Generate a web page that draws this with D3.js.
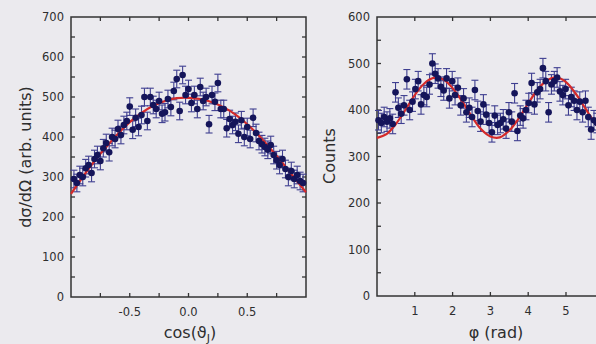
<!DOCTYPE html>
<html>
<head>
<meta charset="utf-8">
<script src="https://cdn.jsdelivr.net/npm/d3@7"></script>
<style>
  body { margin: 0; background: #ebeaee; }
  svg { display: block; }
  text { font-family: "DejaVu Sans", sans-serif; fill: #2e2e2e; }
</style>
</head>
<body>
<div class="chart"></div>
<script>
var svgWidth = 596;
var svgHeight = 344;

// left panel: angular distribution
var cosVals = [-0.975, -0.95, -0.925, -0.9, -0.875, -0.85, -0.825, -0.8, -0.775, -0.75,
  -0.725, -0.7, -0.675, -0.65, -0.625, -0.6, -0.575, -0.55, -0.525, -0.5,
  -0.475, -0.45, -0.425, -0.4, -0.375, -0.35, -0.325, -0.3, -0.275, -0.25,
  -0.225, -0.2, -0.175, -0.15, -0.125, -0.1, -0.075, -0.05, -0.025, 0.0,
  0.025, 0.05, 0.075, 0.1, 0.125, 0.15, 0.175, 0.2, 0.225, 0.25,
  0.275, 0.3, 0.325, 0.35, 0.375, 0.4, 0.425, 0.45, 0.475, 0.5,
  0.525, 0.55, 0.575, 0.6, 0.625, 0.65, 0.675, 0.7, 0.725, 0.75,
  0.775, 0.8, 0.825, 0.85, 0.875, 0.9, 0.925, 0.95, 0.975];
var xsecVals = [295, 285, 305, 300, 322, 330, 310, 345, 355, 340,
  372, 385, 362, 400, 395, 420, 405, 430, 440, 476,
  418, 448, 425, 455, 500, 440, 500, 480, 470, 490,
  458, 462, 495, 475, 515, 545, 465, 555, 505, 520,
  485, 505, 470, 525, 490, 500, 432, 505, 488, 535,
  470, 470, 422, 445, 430, 438, 408, 442, 400, 425,
  395, 448, 410, 390, 382, 375, 368, 380, 355, 342,
  330, 345, 320, 300, 315, 295, 305, 290, 285];
var xsecErr = 22;

var cosFit = [-1, -0.9, -0.8, -0.7, -0.6, -0.5, -0.4, -0.3, -0.2, -0.1, 0,
  0.1, 0.2, 0.3, 0.4, 0.5, 0.6, 0.7, 0.8, 0.9, 1];
var xsecFit = [258, 300, 340, 375, 408, 437, 460, 478, 490, 497, 498,
  495, 487, 474, 456, 432, 403, 370, 335, 298, 262];

// right panel: azimuthal distribution
var phiVals = [0.04, 0.115, 0.19, 0.265, 0.34, 0.415, 0.49, 0.565, 0.64, 0.715,
  0.79, 0.865, 0.94, 1.015, 1.09, 1.165, 1.24, 1.315, 1.39, 1.465,
  1.54, 1.615, 1.69, 1.765, 1.84, 1.915, 1.99, 2.065, 2.14, 2.215,
  2.29, 2.365, 2.44, 2.515, 2.59, 2.665, 2.74, 2.815, 2.89, 2.965,
  3.04, 3.115, 3.19, 3.265, 3.34, 3.415, 3.49, 3.565, 3.64, 3.715,
  3.79, 3.865, 3.94, 4.015, 4.09, 4.165, 4.24, 4.315, 4.39, 4.465,
  4.54, 4.615, 4.69, 4.765, 4.84, 4.915, 4.99, 5.065, 5.14, 5.215,
  5.29, 5.365, 5.44, 5.515, 5.59, 5.665, 5.74, 5.815, 5.89, 5.965,
  6.04, 6.115, 6.19];
var countVals = [378, 372, 385, 375, 382, 370, 438, 405, 392, 410,
  466, 400, 418, 445, 462, 412, 432, 428, 455, 500,
  478, 468, 450, 442, 468, 425, 462, 432, 448, 410,
  425, 395, 405, 385, 443, 398, 375, 412, 390, 372,
  352, 388, 368, 372, 380, 360, 395, 375, 436, 355,
  388, 382, 400, 415, 458, 412, 438, 445, 490, 462,
  395, 455, 462, 470, 440, 432, 445, 410, 428, 420,
  400, 418, 395, 420, 385, 358, 378, 372, 365, 380,
  372, 378, 382];
var countErr = 21;

var phiFit = [0, 0.25, 0.5, 0.75, 1.0, 1.25, 1.5, 1.75, 2.0, 2.25, 2.5, 2.75, 3.0,
  3.25, 3.5, 3.75, 4.0, 4.25, 4.5, 4.75, 5.0, 5.25, 5.5, 5.75, 6.0, 6.25];
var countFit = [340, 348, 370, 400, 432, 457, 469, 466, 447, 419, 387, 359, 343,
  341, 356, 382, 414, 444, 464, 470, 460, 436, 405, 374, 350, 340];

var svg = d3.select(".chart")
  .append("svg")
  .attr("width", svgWidth)
  .attr("height", svgHeight);

var frameColor = "#333333";
var dotColor = "#15155a";
var barColor = "#3e3e90";
var fitColor = "#d42a2a";

// draws one framed panel with inward ticks, error bars and fit curve
function drawPanel(opt) {
  var x = d3.scaleLinear().domain(opt.xDomain).range([opt.left, opt.right]);
  var y = d3.scaleLinear().domain(opt.yDomain).range([opt.bottom, opt.top]);
  var g = svg.append("g");

  // frame
  g.append("rect")
    .attr("x", opt.left).attr("y", opt.top)
    .attr("width", opt.right - opt.left).attr("height", opt.bottom - opt.top)
    .attr("fill", "none").attr("stroke", frameColor).attr("stroke-width", 1.5);

  // ticks on all four sides, pointing in
  var tl = 4;
  opt.xTicks.forEach(function(t) {
    g.append("line").attr("x1", x(t)).attr("x2", x(t))
      .attr("y1", opt.bottom).attr("y2", opt.bottom - tl)
      .attr("stroke", frameColor).attr("stroke-width", 1.3);
    g.append("line").attr("x1", x(t)).attr("x2", x(t))
      .attr("y1", opt.top).attr("y2", opt.top + tl)
      .attr("stroke", frameColor).attr("stroke-width", 1.3);
  });
  opt.yTicks.forEach(function(t) {
    g.append("line").attr("x1", opt.left).attr("x2", opt.left + tl)
      .attr("y1", y(t)).attr("y2", y(t))
      .attr("stroke", frameColor).attr("stroke-width", 1.3);
    g.append("line").attr("x1", opt.right).attr("x2", opt.right - tl)
      .attr("y1", y(t)).attr("y2", y(t))
      .attr("stroke", frameColor).attr("stroke-width", 1.3);
  });

  // tick labels
  g.selectAll(".xl").data(opt.xLabels).enter().append("text")
    .attr("x", d => x(d))
    .attr("y", opt.bottom + 19)
    .attr("text-anchor", "middle")
    .attr("font-size", 11.5)
    .text(opt.xFormat);
  g.selectAll(".yl").data(opt.yLabels).enter().append("text")
    .attr("x", opt.left - 7)
    .attr("y", d => y(d) + 4)
    .attr("text-anchor", "end")
    .attr("font-size", 11.5)
    .text(d => d);

  // error bars
  var bars = g.append("g").attr("stroke", barColor).attr("stroke-width", 1.1);
  opt.xs.forEach(function(xv, i) {
    var cx = x(xv), yv = opt.ys[i];
    var y1 = y(yv + opt.err), y2 = y(yv - opt.err);
    bars.append("line").attr("x1", cx).attr("x2", cx).attr("y1", y1).attr("y2", y2);
    bars.append("line").attr("x1", cx - 3.5).attr("x2", cx + 3.5).attr("y1", y1).attr("y2", y1);
    bars.append("line").attr("x1", cx - 3.5).attr("x2", cx + 3.5).attr("y1", y2).attr("y2", y2);
  });

  // fit curve
  var line = d3.line()
    .x((d, i) => x(opt.fitX[i]))
    .y(d => y(d))
    .curve(d3.curveCatmullRom);
  g.append("path")
    .datum(opt.fitY)
    .attr("d", line)
    .attr("fill", "none")
    .attr("stroke", fitColor)
    .attr("stroke-width", 2.2);

  // points
  g.selectAll("circle").data(opt.ys).enter().append("circle")
    .attr("cx", (d, i) => x(opt.xs[i]))
    .attr("cy", d => y(d))
    .attr("r", 3.3)
    .attr("fill", dotColor);

  return g;
}

drawPanel({
  left: 71, right: 306, top: 17, bottom: 297,
  xDomain: [-1, 1], yDomain: [0, 700],
  xTicks: [-0.75, -0.5, -0.25, 0, 0.25, 0.5, 0.75],
  xLabels: [-0.5, 0, 0.5],
  xFormat: d => d3.format(".1f")(d).replace("−", "-"),
  yTicks: d3.range(50, 700, 50),
  yLabels: [0, 100, 200, 300, 400, 500, 600, 700],
  xs: cosVals, ys: xsecVals, err: xsecErr,
  fitX: cosFit, fitY: xsecFit
});

drawPanel({
  left: 377, right: 614.5, top: 17, bottom: 296,
  xDomain: [0, 2 * Math.PI], yDomain: [0, 600],
  xTicks: [1, 2, 3, 4, 5, 6],
  xLabels: [1, 2, 3, 4, 5],
  xFormat: d => d,
  yTicks: d3.range(50, 600, 50),
  yLabels: [0, 100, 200, 300, 400, 500, 600],
  xs: phiVals, ys: countVals, err: countErr,
  fitX: phiFit, fitY: countFit
});

// axis titles
var t1 = svg.append("text")
  .attr("x", 190).attr("y", 338)
  .attr("text-anchor", "middle")
  .attr("font-size", 16);
t1.append("tspan").text("cos(ϑ");
t1.append("tspan").attr("font-size", 11).attr("dy", 4).text("J");
t1.append("tspan").attr("dy", -4).text(")");

svg.append("text")
  .attr("x", 496).attr("y", 338)
  .attr("text-anchor", "middle")
  .attr("font-size", 16)
  .text("φ (rad)");

svg.append("text")
  .attr("transform", "translate(31, 157) rotate(-90)")
  .attr("text-anchor", "middle")
  .attr("font-size", 16)
  .text("dσ/dΩ (arb. units)");

svg.append("text")
  .attr("transform", "translate(335, 156) rotate(-90)")
  .attr("text-anchor", "middle")
  .attr("font-size", 16)
  .text("Counts");
</script>
</body>
</html>
